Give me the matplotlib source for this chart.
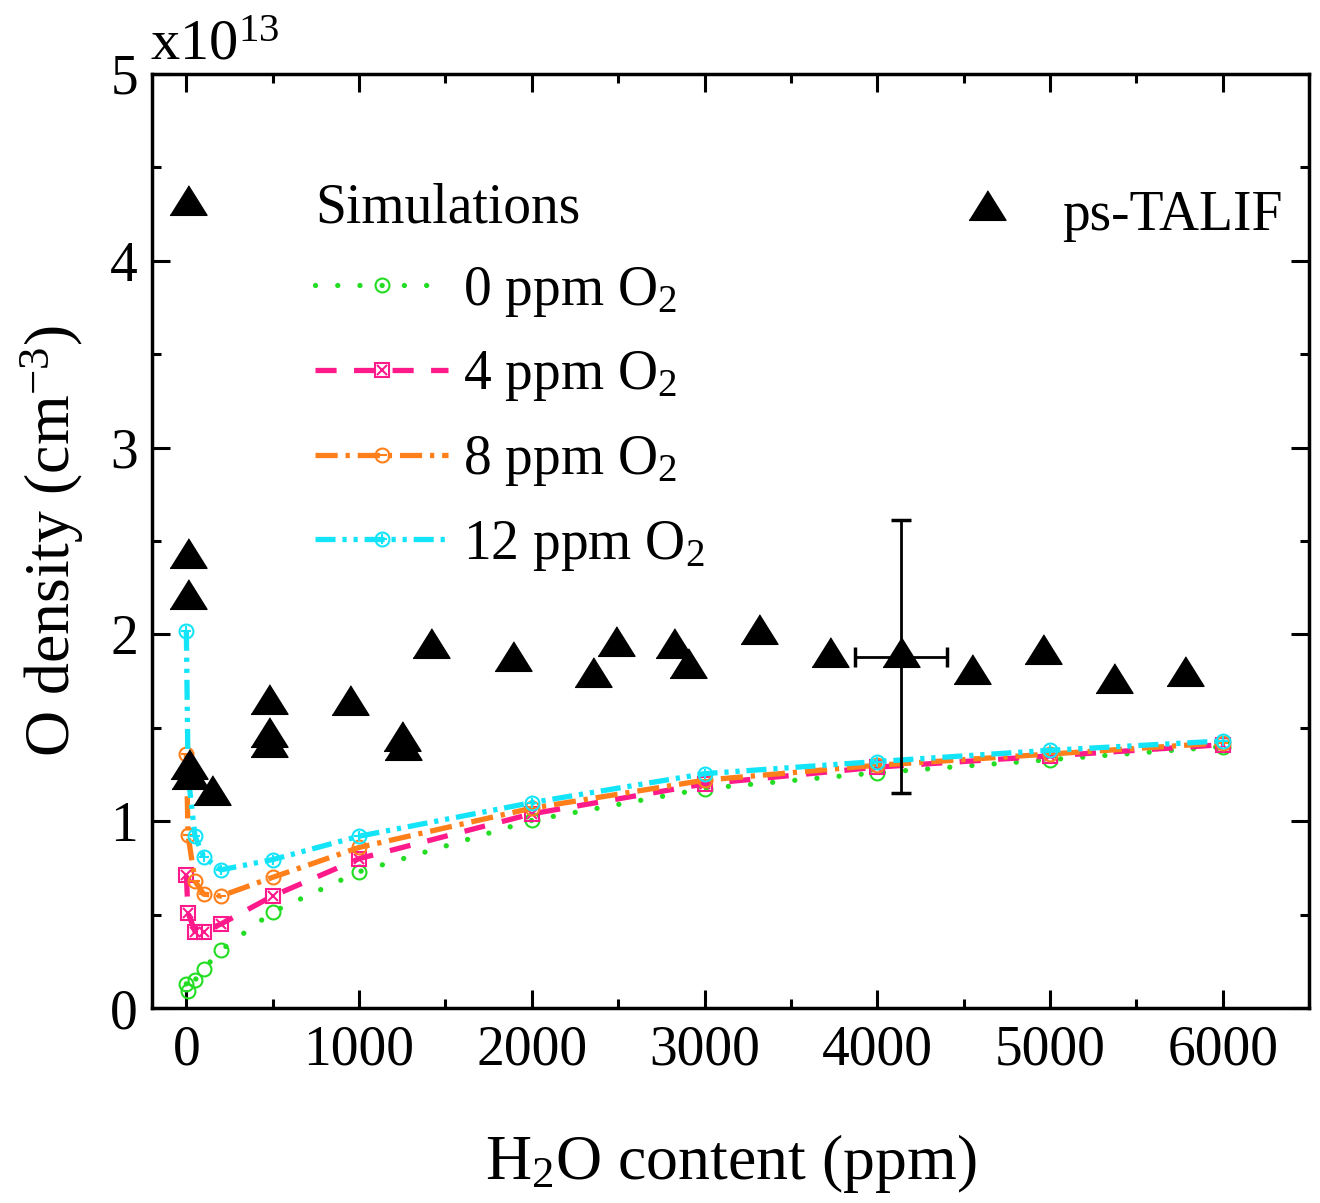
import matplotlib
matplotlib.use('Agg')
import matplotlib.pyplot as plt
from matplotlib.ticker import MultipleLocator
from matplotlib.legend_handler import HandlerTuple

plt.rcParams['font.family'] = 'Liberation Serif'
plt.rcParams['mathtext.default'] = 'regular'

# simulations: H2O content (ppm) and O density (x1e13 cm^-3)
sim_x = [0, 10, 50, 100, 200, 500, 1000, 2000, 3000, 4000, 5000, 6000]
sim_0ppm = [0.13, 0.09, 0.15, 0.21, 0.31, 0.515, 0.73, 1.005, 1.175, 1.26, 1.33, 1.40]
sim_4ppm = [0.71, 0.51, 0.41, 0.41, 0.45, 0.60, 0.80, 1.04, 1.20, 1.29, 1.35, 1.41]
sim_8ppm = [1.36, 0.925, 0.68, 0.61, 0.60, 0.70, 0.86, 1.07, 1.22, 1.30, 1.36, 1.42]
sim_12ppm = [2.02, 1.25, 0.92, 0.81, 0.74, 0.795, 0.92, 1.10, 1.255, 1.32, 1.38, 1.43]
sim_labels = ['0 ppm O$_2$', '4 ppm O$_2$', '8 ppm O$_2$', '12 ppm O$_2$']

# ps-TALIF measurements
talif_x = [8, 8, 8, 15, 20, 150, 477, 477, 477, 950, 1249, 1252, 1419, 1890,
           2355, 2490, 2822, 2905, 3316, 3729, 4138, 4549, 4958, 5369, 5779]
talif_y = [4.30, 2.41, 2.19, 1.28, 1.225, 1.14, 1.63, 1.45, 1.40, 1.62, 1.43, 1.38,
           1.93, 1.86, 1.77, 1.94, 1.93, 1.82, 2.00, 1.88, 1.88, 1.79, 1.895, 1.74, 1.78]

# one representative error bar
err_x = [4138]
err_y = [1.88]
err_dx = [268]
err_dy = [0.73]

fig = plt.figure(figsize=(13.2, 12.03), dpi=100)
ax = fig.add_axes([0.115, 0.162, 0.8767, 0.7765])

lw = 3.8
styles = [
    # values, color, dashes, base marker, overlay marker
    (sim_0ppm, '#22DD22', (0.01, 4.2), 'o', None),
    (sim_4ppm, '#FF1A8C', (4.0, 3.3), 's', 'x'),
    (sim_8ppm, '#FF7F1A', (4.2, 1.5, 0.8, 1.5), 'o', '_'),
    (sim_12ppm, '#14E4F8', (3.8, 1.3, 0.8, 1.3, 0.8, 1.3), 'o', '+'),
]
handles = []
for vals, col, dsh, mk, ov in styles:
    ms = 9.5 if mk == 's' else 10
    ln, = ax.plot(sim_x, vals, color=col, lw=lw, dashes=dsh, marker=mk, ms=ms,
                  mfc='none', mec=col, mew=1.5)
    if dsh[0] < 0.1:
        ln.set_dash_capstyle('round')
    h = [ln]
    if ov is not None:
        o, = ax.plot(sim_x, vals, ls='none', marker=ov, ms=ms * 0.75, color=col, mew=1.5)
        h.append(o)
    handles.append(tuple(h))

# triangle marker with centroid on the data point
tri = [(-1, -0.533), (1, -0.533), (0, 1.067)]
tri_line, = ax.plot(talif_x, talif_y, ls='none', marker=tri, ms=28.4, color='k', zorder=5)
ax.errorbar(err_x, err_y, xerr=err_dx, yerr=err_dy, fmt='none', ecolor='k',
            elinewidth=2, capsize=7.5, capthick=2.5, zorder=4)

leg1 = ax.legend(handles, sim_labels, title='Simulations', fontsize=40, title_fontsize=40,
                 frameon=False, handlelength=2.4, handletextpad=0.27, labelspacing=0.55,
                 alignment='left', loc='upper left', bbox_to_anchor=(0.141, 0.884),
                 borderpad=0, borderaxespad=0,
                 handler_map={tuple: HandlerTuple(ndivide=1)})
ax.add_artist(leg1)
ax.legend([tri_line], ['ps-TALIF'], fontsize=40, frameon=False, handlelength=2.4,
          handletextpad=0.15, loc='upper right', bbox_to_anchor=(0.977, 0.876),
          borderpad=0, borderaxespad=0)

ax.set_xlim(-200, 6500)
ax.set_ylim(0, 5)
ax.xaxis.set_major_locator(MultipleLocator(1000))
ax.xaxis.set_minor_locator(MultipleLocator(500))
ax.yaxis.set_major_locator(MultipleLocator(1))
ax.yaxis.set_minor_locator(MultipleLocator(0.5))
ax.tick_params(which='both', direction='in', top=True, right=True, width=2.2, labelsize=40)
ax.tick_params(which='major', length=13)
ax.tick_params(which='minor', length=6.5)
ax.tick_params(axis='x', pad=12)
ax.tick_params(axis='y', pad=10)
for s in ax.spines.values():
    s.set_linewidth(2.5)

ax.set_xlabel('H$_2$O content (ppm)', fontsize=46, labelpad=40)
ax.set_ylabel('O density (cm$^{-3}$)', fontsize=46, labelpad=17)
fig.text(150 / 1320, 1 - 60 / 1203, 'x10$^{13}$', fontsize=42, ha='left', va='baseline')

fig.savefig('out.png', dpi=100)
